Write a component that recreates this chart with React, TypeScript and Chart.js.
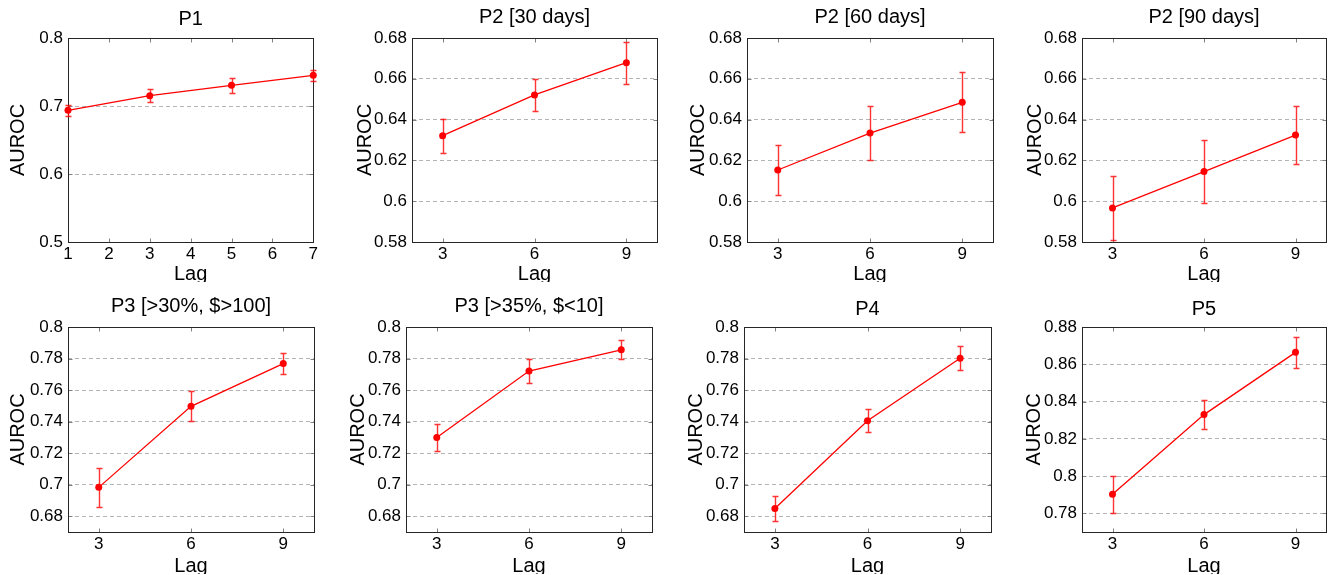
import React, { useEffect, useRef } from "react";
import { Chart, registerables } from "chart.js";

Chart.register(...registerables);

const FONT = "'Liberation Sans', Arial, Helvetica, sans-serif";

// ---------- data ----------
const lagsP1 = [1, 3, 5, 7];
const lags = [3, 6, 9];

const xTicksP1 = [1, 2, 3, 4, 5, 6, 7];
const xTicksLag = [3, 6, 9];
const xRangeP1 = [1, 7];
const xRangeLag = [2, 10];

const titles = [
  "P1",
  "P2 [30 days]",
  "P2 [60 days]",
  "P2 [90 days]",
  "P3 [>30%, $>100]",
  "P3 [>35%, $<10]",
  "P4",
  "P5",
];

const aurocP1 = [0.6936, 0.7152, 0.7304, 0.7451];
const errP1 = [0.0079, 0.01, 0.0108, 0.0077];

const aurocP2d30 = [0.6321, 0.6521, 0.6679];
const errP2d30 = [0.0084, 0.0079, 0.0103];

const aurocP2d60 = [0.6153, 0.6334, 0.6485];
const errP2d60 = [0.0124, 0.0132, 0.0148];

const aurocP2d90 = [0.5967, 0.6145, 0.6324];
const errP2d90 = [0.0155, 0.0154, 0.0142];

const aurocP3a = [0.6983, 0.7497, 0.7768];
const errP3a = [0.0125, 0.0095, 0.0069];

const aurocP3b = [0.7299, 0.7721, 0.7855];
const errP3b = [0.0088, 0.0079, 0.006];

const aurocP4 = [0.6849, 0.7405, 0.7802];
const errP4 = [0.0081, 0.0073, 0.0077];

const aurocP5 = [0.7902, 0.833, 0.8664];
const errP5 = [0.01, 0.0077, 0.0084];

const yTicksP1 = [0.5, 0.6, 0.7, 0.8];
const yTicksP2 = [0.58, 0.6, 0.62, 0.64, 0.66, 0.68];
const yTicksP3 = [0.68, 0.7, 0.72, 0.74, 0.76, 0.78, 0.8];
const yTicksP5 = [0.78, 0.8, 0.82, 0.84, 0.86, 0.88];

const yRangeP1 = [0.5, 0.8];
const yRangeP2 = [0.58, 0.68];
const yRangeP3 = [0.67, 0.8];
const yRangeP5 = [0.77, 0.88];

const panels = [
  { title: titles[0], xs: lagsP1, ys: aurocP1, err: errP1, xTicks: xTicksP1, xRange: xRangeP1, yTicks: yTicksP1, yRange: yRangeP1 },
  { title: titles[1], xs: lags, ys: aurocP2d30, err: errP2d30, xTicks: xTicksLag, xRange: xRangeLag, yTicks: yTicksP2, yRange: yRangeP2 },
  { title: titles[2], xs: lags, ys: aurocP2d60, err: errP2d60, xTicks: xTicksLag, xRange: xRangeLag, yTicks: yTicksP2, yRange: yRangeP2 },
  { title: titles[3], xs: lags, ys: aurocP2d90, err: errP2d90, xTicks: xTicksLag, xRange: xRangeLag, yTicks: yTicksP2, yRange: yRangeP2 },
  { title: titles[4], xs: lags, ys: aurocP3a, err: errP3a, xTicks: xTicksLag, xRange: xRangeLag, yTicks: yTicksP3, yRange: yRangeP3 },
  { title: titles[5], xs: lags, ys: aurocP3b, err: errP3b, xTicks: xTicksLag, xRange: xRangeLag, yTicks: yTicksP3, yRange: yRangeP3 },
  { title: titles[6], xs: lags, ys: aurocP4, err: errP4, xTicks: xTicksLag, xRange: xRangeLag, yTicks: yTicksP3, yRange: yRangeP3 },
  { title: titles[7], xs: lags, ys: aurocP5, err: errP5, xTicks: xTicksLag, xRange: xRangeLag, yTicks: yTicksP5, yRange: yRangeP5 },
];

// ---------- layout (page pixels) ----------
const TOP_ROW = { ct: 0, t: 38, b: 242, cb: 282 };
const BOT_ROW = { ct: 285, t: 327, b: 532, cb: 574 };

const layouts = [
  { row: TOP_ROW, cl: 8, l: 68, r: 314, padR: 6, tc: 19.7 },
  { row: TOP_ROW, cl: 355, l: 412, r: 657, padR: 6, tc: 17 },
  { row: TOP_ROW, cl: 688, l: 747, r: 993, padR: 6, tc: 17 },
  { row: TOP_ROW, cl: 1025, l: 1082, r: 1326, padR: 4, tc: 17 },
  { row: BOT_ROW, cl: 8, l: 68, r: 314, padR: 6, tc: 306.3 },
  { row: BOT_ROW, cl: 348, l: 406, r: 652, padR: 6, tc: 306.3 },
  { row: BOT_ROW, cl: 686, l: 744, r: 991, padR: 6, tc: 309.7 },
  { row: BOT_ROW, cl: 1024, l: 1082, r: 1326, padR: 4, tc: 309.7 },
];

const RED = "#ff0000";
const ERR_RED = "rgba(255, 0, 0, 0.8)";

const framePlugin = {
  id: "matlabFrame",
  beforeDatasetsDraw(chart: any) {
    const { ctx, chartArea: a, scales } = chart;
    const L = Math.round(a.left) + 0.5;
    const R = Math.round(a.right) + 0.5;
    const T = Math.round(a.top) + 0.5;
    const B = Math.round(a.bottom) + 0.5;
    ctx.save();
    // inward ticks
    ctx.strokeStyle = "#808080";
    ctx.lineWidth = 1;
    ctx.setLineDash([]);
    ctx.beginPath();
    for (const t of scales.x.ticks) {
      const px = Math.round(scales.x.getPixelForValue(t.value)) + 0.5;
      ctx.moveTo(px, B);
      ctx.lineTo(px, B - 4);
      ctx.moveTo(px, T);
      ctx.lineTo(px, T + 4);
    }
    for (const t of scales.y.ticks) {
      const py = Math.round(scales.y.getPixelForValue(t.value)) + 0.5;
      ctx.moveTo(L, py);
      ctx.lineTo(L + 4, py);
      ctx.moveTo(R, py);
      ctx.lineTo(R - 4, py);
    }
    ctx.stroke();
    // box
    ctx.strokeStyle = "#262626";
    ctx.strokeRect(L, T, R - L, B - T);
    // error bars
    const ds = chart.data.datasets[0];
    const meta = chart.getDatasetMeta(0);
    const errs: number[] = ds.errors || [];
    ctx.strokeStyle = ERR_RED;
    ctx.lineWidth = 1.4;
    ctx.beginPath();
    meta.data.forEach((pt: any, i: number) => {
      const v = ds.data[i].y;
      const e = errs[i] || 0;
      const x = Math.round(pt.x) + 0.5;
      const y1 = scales.y.getPixelForValue(v + e);
      const y2 = scales.y.getPixelForValue(v - e);
      ctx.moveTo(x, y1);
      ctx.lineTo(x, y2);
      ctx.moveTo(x - 3, Math.round(y1) + 0.5);
      ctx.lineTo(x + 3, Math.round(y1) + 0.5);
      ctx.moveTo(x - 3, Math.round(y2) + 0.5);
      ctx.lineTo(x + 3, Math.round(y2) + 0.5);
    });
    ctx.stroke();
    ctx.restore();
  },
};

const fmtY = (v: number) => String(Number(Number(v).toFixed(2)));

function Panel({ p, lay }: { p: any; lay: any }) {
  const ref = useRef<HTMLCanvasElement | null>(null);
  const width = lay.r + lay.padR - lay.cl;
  const height = lay.row.cb - lay.row.ct;
  const yW = lay.l - lay.cl;
  const xH = lay.row.cb - lay.row.b;
  const tTop = lay.tc - lay.row.ct - 12;
  const tBot = lay.row.t - lay.tc - 12;

  useEffect(() => {
    if (!ref.current) return;
    const chart = new Chart(ref.current, {
      type: "line",
      data: {
        datasets: [
          {
            data: p.xs.map((x: number, i: number) => ({ x, y: p.ys[i] })),
            errors: p.err,
            borderColor: RED,
            borderWidth: 1.3,
            backgroundColor: RED,
            pointRadius: 3.5,
            pointBackgroundColor: RED,
            pointBorderColor: RED,
            pointBorderWidth: 0,
            tension: 0,
            clip: false,
          } as any,
        ],
      },
      options: {
        animation: false,
        responsive: false,
        devicePixelRatio: 1,
        events: [],
        layout: { padding: { left: 0, top: 0, bottom: 0, right: lay.padR } },
        plugins: {
          legend: { display: false },
          tooltip: { enabled: false },
          title: {
            display: true,
            text: p.title,
            fullSize: false,
            color: "#000",
            font: { family: FONT, size: 20, weight: "normal", lineHeight: 1.2 },
            padding: { top: tTop, bottom: tBot },
          },
        },
        scales: {
          x: {
            type: "linear",
            min: p.xRange[0],
            max: p.xRange[1],
            grid: { display: false, drawTicks: false },
            border: { display: false },
            afterBuildTicks: (s: any) => {
              s.ticks = p.xTicks.map((v: number) => ({ value: v }));
            },
            afterFit: (s: any) => {
              s.height = xH;
            },
            ticks: {
              autoSkip: false,
              maxRotation: 0,
              padding: 2,
              color: "#000",
              font: { family: FONT, size: 17 },
              callback: (v: any) => String(v),
            },
            title: {
              display: true,
              text: "Lag",
              color: "#000",
              font: { family: FONT, size: 20, lineHeight: 0.8 },
              padding: 0,
            },
          },
          y: {
            type: "linear",
            min: p.yRange[0],
            max: p.yRange[1],
            grid: { display: true, drawTicks: false, color: "#b4b4b4", lineWidth: 1 },
            border: { display: false, dash: [4, 3] },
            afterBuildTicks: (s: any) => {
              s.ticks = p.yTicks.map((v: number) => ({ value: v }));
            },
            afterFit: (s: any) => {
              s.width = yW;
            },
            ticks: {
              autoSkip: false,
              padding: 5,
              color: "#000",
              font: { family: FONT, size: 17 },
              callback: (v: any) => fmtY(v),
            },
            title: {
              display: true,
              text: "AUROC",
              color: "#000",
              font: { family: FONT, size: 20, lineHeight: 1 },
              padding: 0,
            },
          },
        },
      } as any,
      plugins: [framePlugin],
    });
    return () => chart.destroy();
  }, []);

  return (
    <canvas
      ref={ref}
      width={width}
      height={height}
      style={{ position: "absolute", left: lay.cl, top: lay.row.ct, width, height }}
    />
  );
}

export default function App() {
  return (
    <div
      style={{
        position: "absolute",
        left: 0,
        top: 0,
        width: 1330,
        height: 575,
        overflow: "hidden",
        background: "#fff",
      }}
    >
      {panels.map((p, i) => (
        <Panel key={i} p={p} lay={layouts[i]} />
      ))}
    </div>
  );
}
